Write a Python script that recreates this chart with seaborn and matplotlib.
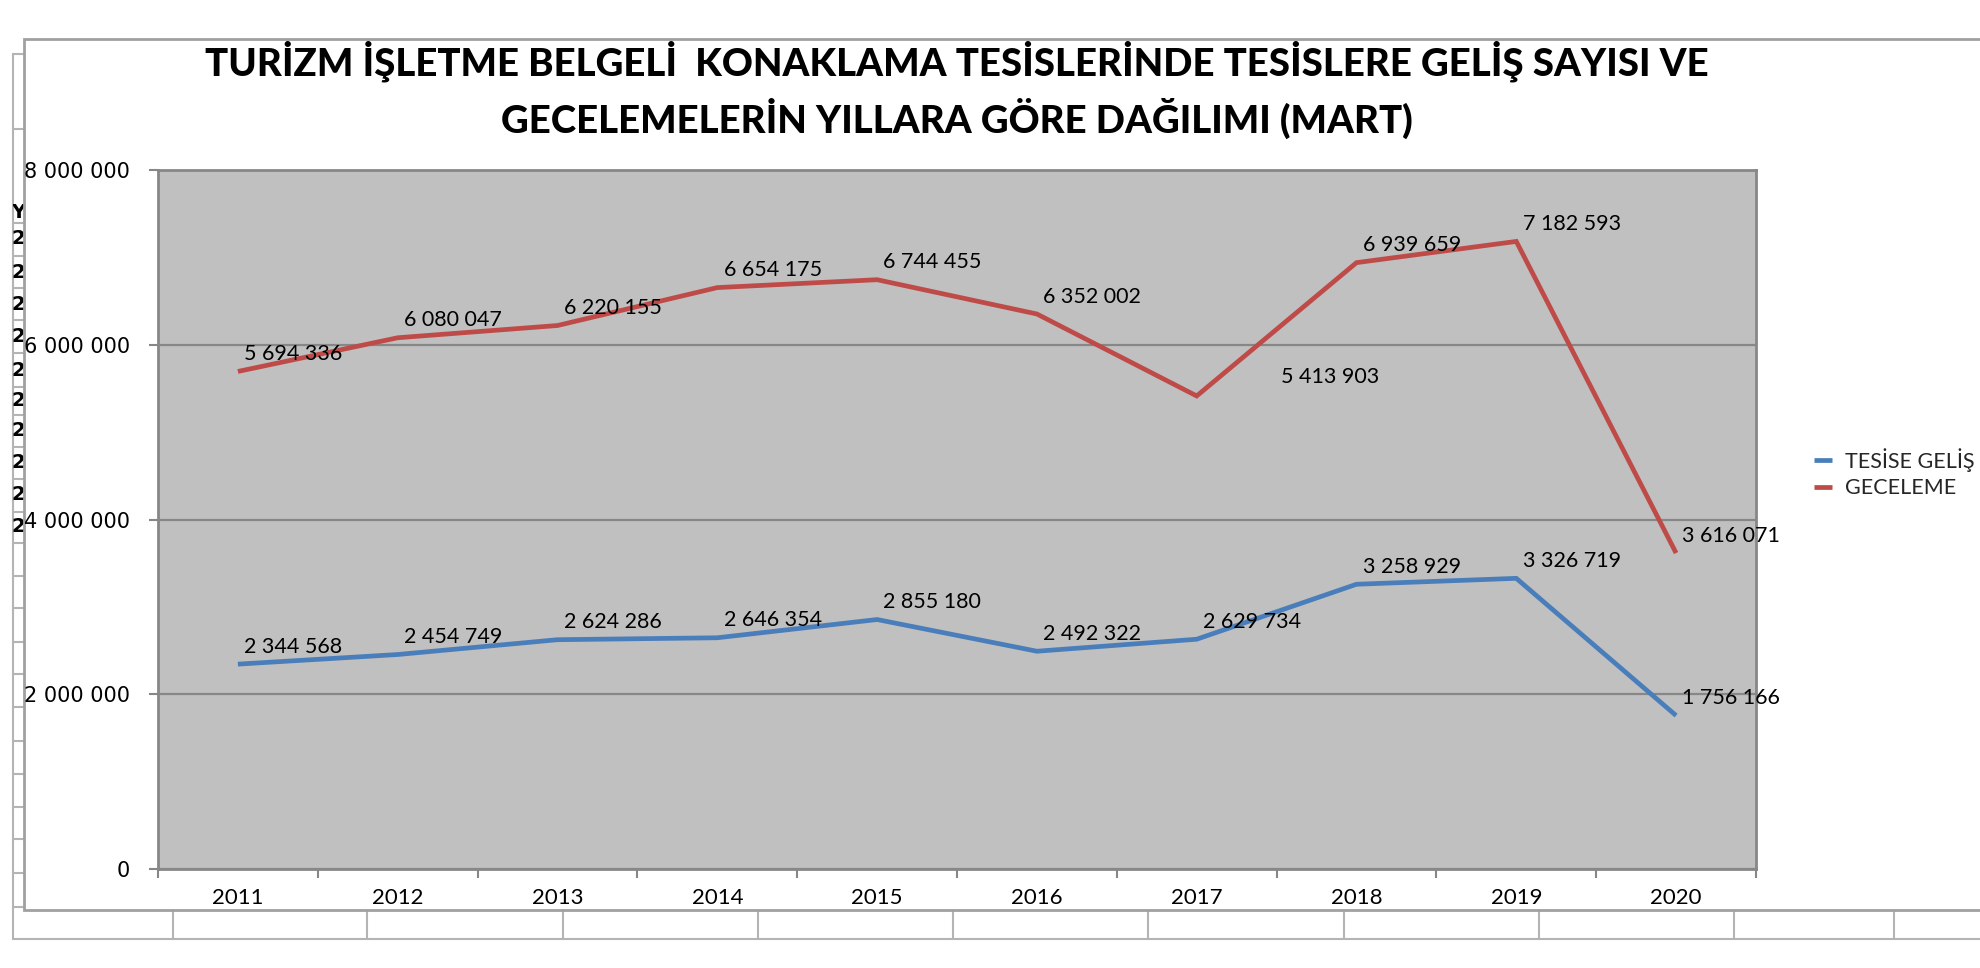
import numpy as np
import pandas as pd
import matplotlib
matplotlib.use("Agg")
import matplotlib.pyplot as plt
import seaborn as sns
from matplotlib.lines import Line2D
from matplotlib.patches import Rectangle

# ---------------- data ----------------
years = [2011, 2012, 2013, 2014, 2015, 2016, 2017, 2018, 2019, 2020]
tesise_gelis = [2344568, 2454749, 2624286, 2646354, 2855180,
                2492322, 2629734, 3258929, 3326719, 1756166]
geceleme = [5694336, 6080047, 6220155, 6654175, 6744455,
            6352002, 5413903, 6939659, 7182593, 3616071]
series_names = ["TESİSE GELİŞ SAYISI", "GECELEME"]
y_ticks = [0, 2000000, 4000000, 6000000, 8000000]
title_lines = ["TURİZM İŞLETME BELGELİ  KONAKLAMA TESİSLERİNDE TESİSLERE GELİŞ SAYISI VE",
               "GECELEMELERİN YILLARA GÖRE DAĞILIMI (MART)"]

# ---------------- style ----------------
W, H = 1980, 968
sns.set_theme(style="white")
plt.rcParams["font.family"] = ["Lato", "DejaVu Sans"]

blue = "#4A7EBB"
red = "#BE4B48"
grid_gray = "#878787"
sheet_gray = "#B4B4B4"


def fx(x):
    return x / W


def fy(y):
    return 1 - y / H


fig = plt.figure(figsize=(W / 100, H / 100), dpi=100)
fig.patch.set_facecolor("white")

# ---- spreadsheet background decoration ----
row_lines = [54, 129, 223, 256, 288, 320, 353, 387, 415, 447, 479, 512, 543,
             576, 608, 642, 674, 707, 741, 774, 807, 839, 873, 907]
for yy in row_lines:
    fig.add_artist(Line2D([fx(13), fx(24)], [fy(yy), fy(yy)], color=sheet_gray,
                          lw=1.5, zorder=-3))
fig.add_artist(Line2D([fx(13), fx(13)], [fy(54), fy(939)], color=sheet_gray, lw=1.5, zorder=-3))
fig.add_artist(Line2D([fx(13), 1.0], [fy(939), fy(939)], color=sheet_gray, lw=1.5, zorder=-3))
for xx in [173, 367, 563, 758, 953, 1148, 1344, 1539, 1734, 1894]:
    fig.add_artist(Line2D([fx(xx), fx(xx)], [fy(910), fy(939)], color=sheet_gray,
                          lw=1.5, zorder=-3))
# clipped cell text fragments on the left
clip_rect = Rectangle((fx(13), fy(907)), fx(24) - fx(13), fy(54) - fy(907),
                      transform=fig.transFigure, visible=False)
fig.add_artist(clip_rect)
for yy in [239, 272, 304, 336, 370, 401, 431, 463, 495, 527]:
    t = fig.text(fx(25), fy(yy), "2", ha="right", va="center", fontsize=14,
                 fontweight="bold", family="DejaVu Sans", color="black", zorder=-2)
    t.set_clip_path(clip_rect)
t = fig.text(fx(25), fy(212), "Y", ha="right", va="center", fontsize=14,
             fontweight="bold", family="DejaVu Sans", color="black", zorder=-2)
t.set_clip_path(clip_rect)

# chart area (white with gray border)
fig.add_artist(Rectangle((fx(24), fy(910)), 1.2, fy(39) - fy(910),
                         transform=fig.transFigure, facecolor="white",
                         edgecolor="#A0A0A0", lw=2, zorder=-1))

# ---------------- plot area ----------------
left, right, top, bottom = 158, 1756, 170, 869
ax = fig.add_axes([fx(left), fy(bottom), fx(right) - fx(left), (bottom - top) / H])
ax.set_facecolor("#C0C0C0")

df = pd.DataFrame({
    "idx": list(range(len(years))) * 2,
    "value": tesise_gelis + geceleme,
    "series": [series_names[0]] * len(years) + [series_names[1]] * len(years),
})
sns.lineplot(data=df, x="idx", y="value", hue="series", hue_order=series_names,
             palette=[blue, red], lw=3.4, ax=ax, legend=False, errorbar=None,
             sort=False)
for ln in ax.get_lines():
    ln.set_solid_capstyle("butt")
    ln.set_solid_joinstyle("miter")
    ln.set_zorder(3)

ax.set_xlim(-0.5, len(years) - 0.5)
ax.set_ylim(y_ticks[0], y_ticks[-1])
ax.set_xlabel("")
ax.set_ylabel("")

# y axis
ax.set_yticks(y_ticks)
ax.set_yticklabels([f"{v:,}".replace(",", " ") for v in y_ticks])
ax.tick_params(axis="y", which="major", left=True, length=6.5, width=1.5,
               color=grid_gray, pad=13.5, labelsize=15, labelcolor="black",
               labelfontfamily="DejaVu Sans", direction="out")
ax.yaxis.grid(True, color=grid_gray, lw=1.6)
ax.xaxis.grid(False)
ax.set_axisbelow(True)

# x axis: boundary ticks (major), labels at centres (minor)
ax.set_xticks(np.arange(-0.5, len(years), 1.0))
ax.set_xticklabels([])
ax.set_xticks(np.arange(len(years)), minor=True)
ax.set_xticklabels([str(y) for y in years], minor=True)
ax.tick_params(axis="x", which="major", bottom=True, length=6.5, width=1.5,
               color=grid_gray, direction="out")
ax.tick_params(axis="x", which="minor", bottom=True, length=0, pad=14,
               labelsize=16, labelcolor="black")

for sp in ax.spines.values():
    sp.set_color(grid_gray)
    sp.set_linewidth(2)
    sp.set_visible(True)

# data labels
default_offset = (4.5, 12.5)
special_offsets = {(series_names[1], 6): (61, 13.5)}
for name, vals in zip(series_names, [tesise_gelis, geceleme]):
    for i, v in enumerate(vals):
        off = special_offsets.get((name, i), default_offset)
        ax.annotate(f"{v:,}".replace(",", " "), (i, v), xytext=off,
                    textcoords="offset points", ha="left", va="center",
                    fontsize=15.5, color="black", zorder=4)

# legend (outside, right) - text runs past the figure edge as in the original
handles = ax.get_lines()[:2]
fig.legend(handles, series_names, loc="upper left",
           bbox_to_anchor=(fx(1814), fy(448)), frameon=False, fontsize=15.5,
           handlelength=0.85, handletextpad=0.6, labelspacing=0.3,
           borderpad=0, borderaxespad=0)

# title
for k, line in enumerate(title_lines):
    fig.text(fx(957), fy(61 + 57 * k), line, ha="center", va="center",
             fontsize=27.6, fontweight="black", color="black")

fig.savefig("out.png", dpi=100)
